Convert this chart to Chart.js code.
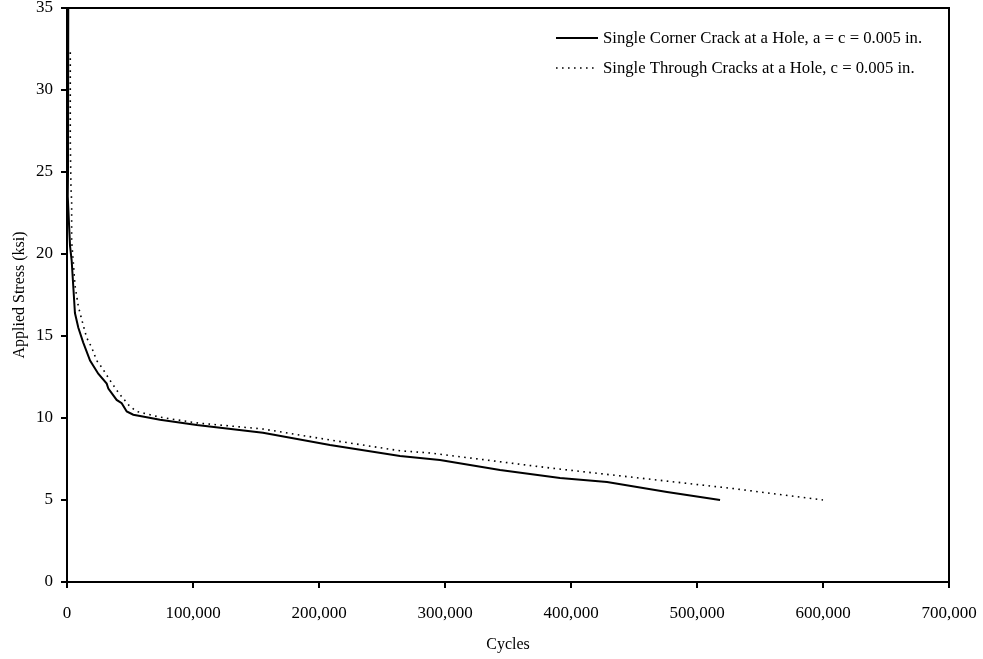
<!DOCTYPE html>
<html>
<head>
<meta charset="utf-8">
<script src="https://cdn.jsdelivr.net/npm/chart.js@4"></script>
<style>
  html, body { margin: 0; padding: 0; background: #fff; }
  #wrap { width: 983px; height: 659px; position: relative; }
</style>
</head>
<body>
<div id="wrap"><canvas id="stress_chart" width="983" height="659"></canvas></div>
<script>
// data
var series_names = ["Single Corner Crack at a Hole, a = c = 0.005 in.", "Single Through Cracks at a Hole, c = 0.005 in."];

var corner_cycles = [1000, 800, 600, 2400, 3700, 5000, 6300, 9000, 12900, 18300, 24800, 31500, 32800, 39400, 43400, 47400, 52600, 63300, 73800, 103000, 155500, 208700, 264300, 296000, 343700, 391300, 428600, 476200, 518300];
var corner_stress = [35, 25, 23.5, 20.5, 19.6, 18.0, 16.4, 15.5, 14.6, 13.5, 12.7, 12.1, 11.8, 11.1, 10.9, 10.4, 10.2, 10.05, 9.9, 9.57, 9.1, 8.35, 7.68, 7.44, 6.83, 6.34, 6.1, 5.49, 5.0];

var through_cycles = [2600, 2600, 3200, 3700, 3700, 5000, 6300, 9000, 11700, 15600, 19600, 23600, 27500, 34100, 39400, 43400, 50000, 55300, 73800, 103000, 155500, 208700, 264300, 288000, 385700, 470600, 528600, 600000];
var through_stress = [32.3, 27, 24, 23.2, 20.8, 19.5, 18.1, 16.8, 16.0, 14.9, 14.3, 13.5, 13.1, 12.3, 11.7, 11.3, 10.7, 10.4, 10.05, 9.7, 9.33, 8.66, 8.0, 7.87, 6.93, 6.2, 5.7, 5.0];

var x_ticks = [0, 100000, 200000, 300000, 400000, 500000, 600000, 700000];
var y_ticks = [0, 5, 10, 15, 20, 25, 30, 35];

function to_points(xs, ys) {
    var pts = [];
    for (var i = 0; i < xs.length; i++) pts.push({x: xs[i], y: ys[i]});
    return pts;
}

var serif = "'Liberation Serif', 'Times New Roman', serif";

// box round the plot and legend drawn inside the plot area
var frame_and_legend = {
    id: 'frame_and_legend',
    afterDraw: function (chart) {
        var ctx = chart.ctx;
        var a = chart.chartArea;
        ctx.save();
        ctx.strokeStyle = '#000';
        ctx.lineWidth = 2;
        ctx.strokeRect(a.left, a.top, a.right - a.left, a.bottom - a.top);

        var ds = chart.data.datasets;
        var rows = [38, 68];
        ctx.font = '16.7px ' + serif;
        ctx.textBaseline = 'middle';
        ctx.fillStyle = '#000';
        for (var i = 0; i < ds.length; i++) {
            ctx.beginPath();
            ctx.lineWidth = ds[i].borderWidth;
            ctx.setLineDash(ds[i].borderDash || []);
            ctx.moveTo(556, rows[i]);
            ctx.lineTo(598, rows[i]);
            ctx.stroke();
            ctx.setLineDash([]);
            ctx.fillText(ds[i].label, 603, rows[i] + 1);
        }
        ctx.restore();
    }
};

var ctx = document.getElementById('stress_chart').getContext('2d');
var stress_chart = new Chart(ctx, {
    type: 'line',
    data: {
        datasets: [{
            label: series_names[0],
            data: to_points(corner_cycles, corner_stress),
            borderColor: '#000',
            borderWidth: 2,
            pointRadius: 0,
            tension: 0,
            fill: false,
        }, {
            label: series_names[1],
            data: to_points(through_cycles, through_stress),
            borderColor: '#000',
            borderWidth: 1.6,
            borderDash: [1.6, 4.4],
            pointRadius: 0,
            tension: 0,
            fill: false,
        }]
    },
    options: {
        responsive: false,
        animation: false,
        layout: {
            padding: {left: 0, right: 34, top: 8, bottom: 0}
        },
        scales: {
            x: {
                type: 'linear',
                min: 0,
                max: 700000,
                afterBuildTicks: function (scale) {
                    scale.ticks = x_ticks.map(function (v) { return {value: v}; });
                },
                afterFit: function (scale) {
                    scale.height = 77;
                    scale.paddingLeft = 0;
                    scale.paddingRight = 0;
                },
                ticks: {
                    color: '#000',
                    font: {family: serif, size: 17},
                    padding: 15,
                    maxRotation: 0,
                    callback: function (v) { return v.toLocaleString('en-US'); }
                },
                grid: {drawOnChartArea: false, drawTicks: true, tickLength: 6, color: '#000', lineWidth: 2},
                border: {color: '#000', width: 2},
                title: {
                    display: true,
                    text: 'Cycles',
                    color: '#000',
                    font: {family: serif, size: 16},
                    padding: {top: 10, bottom: 5}
                }
            },
            y: {
                type: 'linear',
                min: 0,
                max: 35,
                afterBuildTicks: function (scale) {
                    scale.ticks = y_ticks.map(function (v) { return {value: v}; });
                },
                afterFit: function (scale) {
                    scale.width = 67;
                    scale.paddingTop = 0;
                    scale.paddingBottom = 0;
                },
                ticks: {
                    color: '#000',
                    font: {family: serif, size: 17},
                    padding: 8
                },
                grid: {drawOnChartArea: false, drawTicks: true, tickLength: 6, color: '#000', lineWidth: 2},
                border: {color: '#000', width: 2},
                title: {
                    display: true,
                    text: 'Applied Stress (ksi)',
                    color: '#000',
                    font: {family: serif, size: 16},
                    padding: {top: 10, bottom: 4}
                }
            }
        },
        plugins: {
            legend: {display: false},
            tooltip: {enabled: false}
        }
    },
    plugins: [frame_and_legend]
});
</script>
</body>
</html>
